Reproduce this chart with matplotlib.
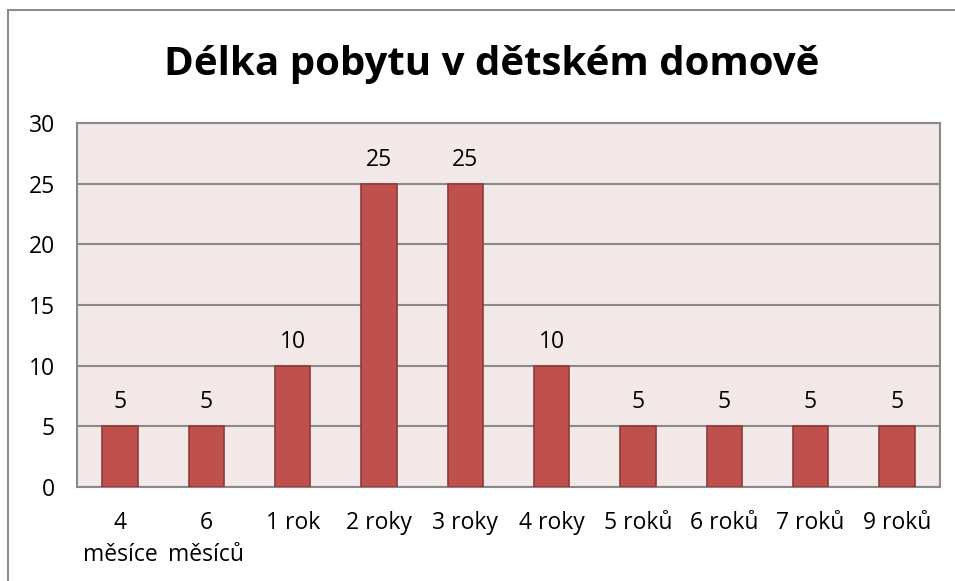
import matplotlib
matplotlib.use("Agg")
import matplotlib.pyplot as plt
from matplotlib.patches import Rectangle

# data
categories = ["4\nměsíce", "6\nměsíců", "1 rok", "2 roky", "3 roky",
              "4 roky", "5 roků", "6 roků", "7 roků", "9 roků"]
values = [5, 5, 10, 25, 25, 10, 5, 5, 5, 5]
y_ticks = [0, 5, 10, 15, 20, 25, 30]

BAR = "#C0504D"
EDGE = "#8E3B39"
BG = "#F2E8E8"
GRID = "#8A8A8A"
FONT = "Open Sans"
FS = 16.5

fig = plt.figure(figsize=(9.55, 5.81), dpi=100)
# chart frame (runs off the right and bottom edges, as in the original)
fig.patches.append(Rectangle((8 / 955, -0.1), 1.2, 1 - 10 / 581 + 0.1,
                             transform=fig.transFigure, fill=False,
                             edgecolor="#8C8C8C", linewidth=1.5))

ax = fig.add_axes([77 / 955, 1 - 487 / 581, (940 - 77) / 955, (487 - 123) / 581])
ax.set_facecolor(BG)
x = range(len(categories))
bars = ax.bar(x, values, width=0.41, color=BAR, edgecolor=EDGE, linewidth=1.2, zorder=3)
for b, v in zip(bars, values):
    ax.text(b.get_x() + b.get_width() / 2, v + 1.0, str(v), ha="center", va="bottom",
            fontsize=FS, family=FONT)

ax.set_xlim(-0.5, len(categories) - 0.5)
ax.set_ylim(0, 30)
ax.set_yticks(y_ticks)
ax.set_yticklabels([str(t) for t in y_ticks], fontsize=FS, family=FONT)
ax.set_xticks(list(x))
ax.set_xticklabels(categories, fontsize=FS, family=FONT, linespacing=1.45, va="top")
ax.tick_params(axis="both", length=0)
ax.tick_params(axis="x", pad=17)
ax.tick_params(axis="y", pad=16)
ax.grid(axis="y", color=GRID, linewidth=1.5, zorder=1)
for s in ax.spines.values():
    s.set_color(GRID)
    s.set_linewidth(1.5)

fig.text(492 / 955, 1 - 64 / 581, "Délka pobytu v dětském domově", ha="center", va="center",
         fontsize=29, fontweight="bold", family=FONT)

fig.savefig("out.png", dpi=100)
